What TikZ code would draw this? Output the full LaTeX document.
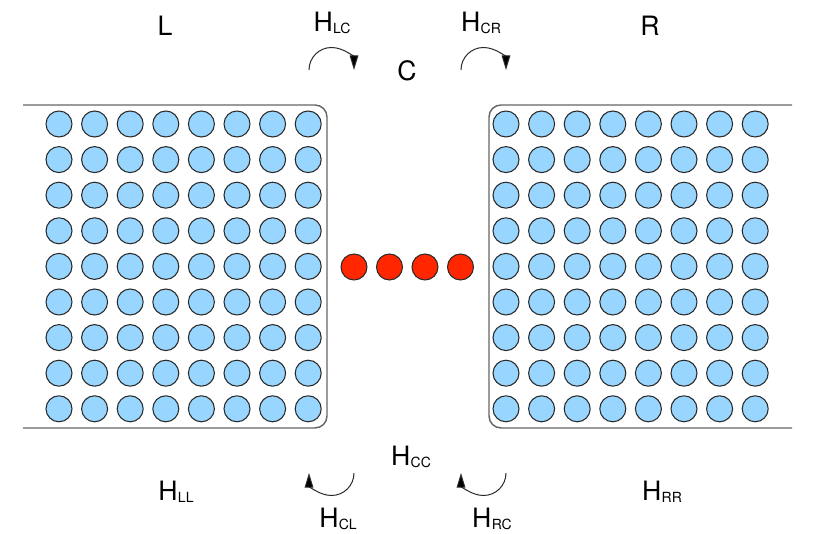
\documentclass[tikz,border=0pt]{standalone}
\usepackage{fontspec}
\setmainfont{TeX Gyre Heros}
\usetikzlibrary{arrows.meta}
\definecolor{SiteBlue}{HTML}{99D6FF}
\definecolor{SiteRed}{HTML}{FF2600}
\definecolor{Edge}{HTML}{2A2A2A}
\definecolor{LeadLine}{HTML}{666666}
\newcommand{\Hsub}[1]{H\kern.2pt\raisebox{-1.6pt}{\fontsize{10.5}{12}\selectfont #1}}
\tikzset{
  lead/.style={draw=LeadLine,line width=1.1pt,rounded corners=9pt},
  leadsite/.style={circle,draw=Edge,fill=SiteBlue,line width=.8pt,minimum size=19.5pt,inner sep=0pt},
  molsite/.style={circle,draw=Edge,fill=SiteRed,line width=.8pt,minimum size=19.5pt,inner sep=0pt},
  lbl/.style={font=\fontsize{20}{24}\selectfont,inner sep=0pt},
  hop/.style={-{Triangle[length=11pt,width=6.5pt,fill=black]},draw=Edge,line width=.75pt}
}
\begin{document}
\begin{tikzpicture}[x=0.75pt,y=-0.75pt]
  \useasboundingbox (0,0) rectangle (815,534);
  % leads
  \draw[lead] (23,105) -- (327,105) -- (327,428) -- (23,428);
  \draw[lead] (792,105) -- (489,105) -- (489,428) -- (792,428);
  \foreach \i in {1,...,8}{
    \foreach \j in {1,...,9}{
      \node[leadsite] (l\i\j) at ({59+35.6*(\i-1)},{124+35.6*(\j-1)}) {};
      \node[leadsite] (r\i\j) at ({506+35.6*(\i-1)},{124+35.6*(\j-1)}) {};
    }
  }
  % molecule
  \foreach \k in {1,...,4}
    \node[molsite] (m\k) at ({354+35.5*(\k-1)},267) {};
  % labels
  \node[lbl] (labL) at (165,26) {L};
  \node[lbl] (labR) at (650,26) {R};
  \node[lbl] (labC) at (407,71) {C};
  \node[lbl] (hlc) at (332,23) {\Hsub{LC}};
  \node[lbl] (hcr) at (481,23) {\Hsub{CR}};
  \node[lbl] (hcc) at (411,457) {\Hsub{CC}};
  \node[lbl] (hll) at (176,492) {\Hsub{LL}};
  \node[lbl] (hrr) at (662,492) {\Hsub{RR}};
  \node[lbl] (hcl) at (338,519) {\Hsub{CL}};
  \node[lbl] (hrc) at (492,519) {\Hsub{RC}};
  % hopping arrows
  \draw[hop] (309,70) arc[start angle=180,end angle=360,radius=22.5];
  \draw[hop] (461,70) arc[start angle=180,end angle=360,radius=22.5];
  \draw[hop] (354,473) arc[start angle=0,end angle=180,radius=22.5];
  \draw[hop] (506,473) arc[start angle=0,end angle=180,radius=22.5];
\end{tikzpicture}
\end{document}
